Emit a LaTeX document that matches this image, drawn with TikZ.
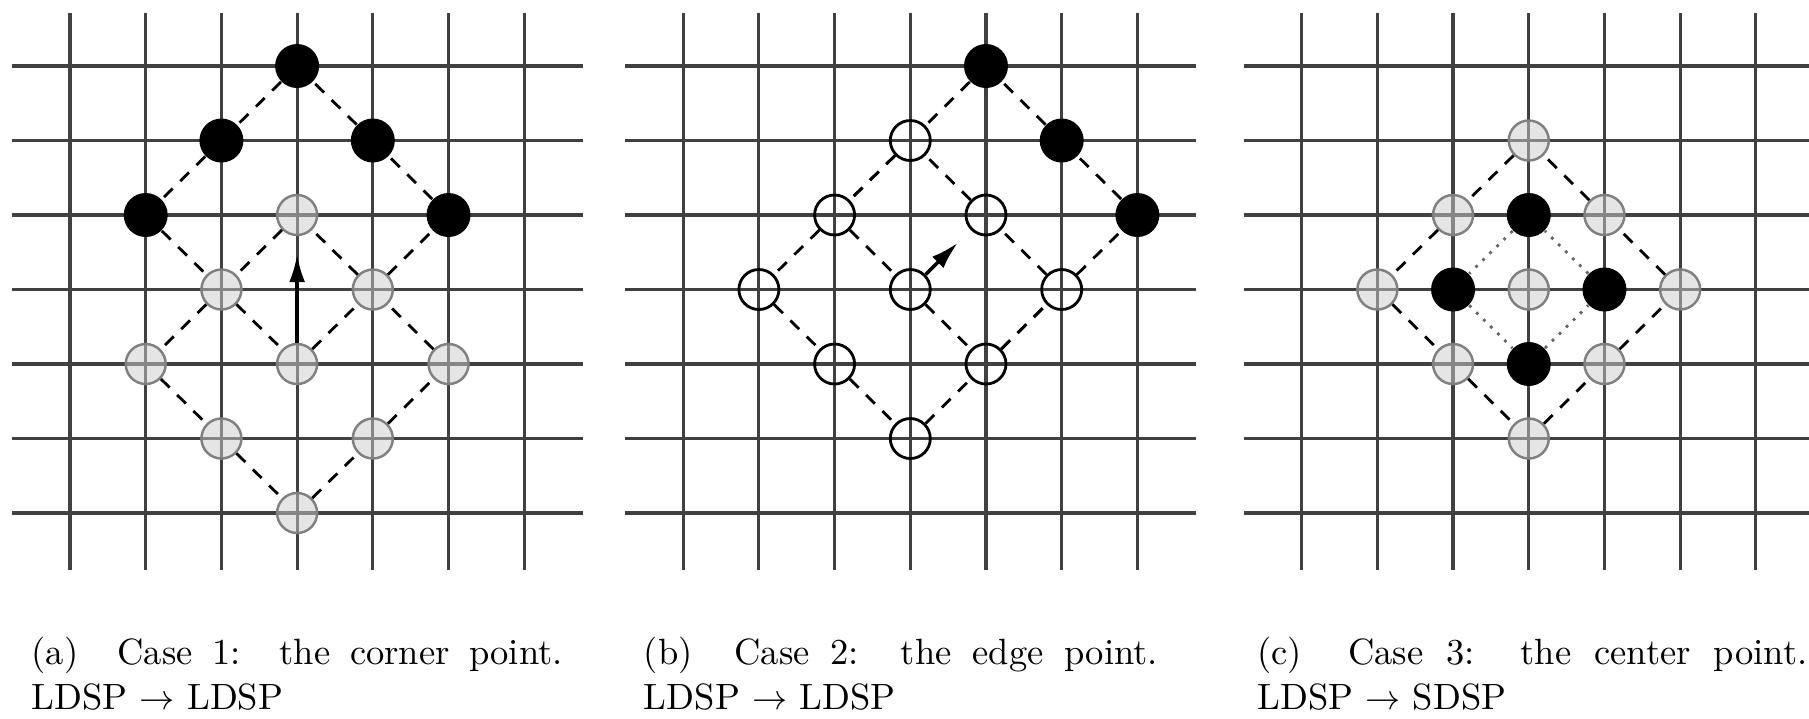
\documentclass[tikz,border=0pt]{standalone}
\usetikzlibrary{arrows.meta, positioning}

\begin{document}
\begin{tikzpicture}[
  x=7.57mm, y=7.45mm,
  gridline/.style={line width=0.9pt, black!75},
  newpt/.style={circle, fill=black, inner sep=0pt, minimum size=4.4mm},
  oldpt/.style={circle, draw=black!50, fill=black!20, fill opacity=0.5,
    line width=0.7pt, inner sep=0pt, minimum size=4mm},
  openpt/.style={circle, draw=black, line width=0.8pt, inner sep=0pt, minimum size=4mm},
  ldsp/.style={line width=0.8pt, dash pattern=on 3.5pt off 3pt},
  sdsp/.style={line width=0.8pt, black!60, dotted},
  move/.style={line width=1pt, -{Latex[length=2.8mm,width=1.6mm]}, shorten >=1.8mm},
  caption/.style={inner sep=0pt, anchor=base west, font=\fontsize{10.4}{12.8}\selectfont}
]
\useasboundingbox (-0.925,-2.752) rectangle (22.972,6.886);

% (a) corner point
\begin{scope}
  \foreach \i in {0,...,6} {
    \draw[gridline] (\i,-0.765) -- (\i,6.71);
    \draw[gridline] (-0.766,\i) -- (6.777,\i);
  }
  \node[oldpt] (a34) at (3,4) {};
  \node[oldpt] (a23) at (2,3) {};
  \node[oldpt] (a43) at (4,3) {};
  \node[oldpt] (a12) at (1,2) {};
  \node[oldpt] (a32) at (3,2) {};
  \node[oldpt] (a52) at (5,2) {};
  \node[oldpt] (a21) at (2,1) {};
  \node[oldpt] (a41) at (4,1) {};
  \node[oldpt] (a30) at (3,0) {};
  \node[newpt] (a36) at (3,6) {};
  \node[newpt] (a25) at (2,5) {};
  \node[newpt] (a45) at (4,5) {};
  \node[newpt] (a14) at (1,4) {};
  \node[newpt] (a54) at (5,4) {};

  \draw[ldsp] (a34) -- (a23) -- (a12) -- (a21) -- (a30) -- (a41) -- (a52) -- (a43) -- (a34);
  \draw[ldsp] (a36) -- (a25) -- (a14) -- (a23) -- (a32) -- (a43) -- (a54) -- (a45) -- (a36);
  \draw[move] (a32) -- (a34);

  \node[caption] (capa) at (-0.515,-2.04) {\makebox[53.1mm][s]{(a)\ \ Case 1:\ \ the corner point.}};
  \node[caption] (capa2) at ([yshift=-4.5mm]capa.base west) {LDSP $\rightarrow$ LDSP};
\end{scope}

% (b) edge point
\begin{scope}[shift={(8.1,0)}]
  \foreach \i in {0,...,6} {
    \draw[gridline] (\i,-0.765) -- (\i,6.71);
    \draw[gridline] (-0.766,\i) -- (6.777,\i);
  }
  \node[openpt] (b35) at (3,5) {};
  \node[openpt] (b24) at (2,4) {};
  \node[openpt] (b44) at (4,4) {};
  \node[openpt] (b13) at (1,3) {};
  \node[openpt] (b33) at (3,3) {};
  \node[openpt] (b53) at (5,3) {};
  \node[openpt] (b22) at (2,2) {};
  \node[openpt] (b42) at (4,2) {};
  \node[openpt] (b31) at (3,1) {};
  \node[newpt] (b46) at (4,6) {};
  \node[newpt] (b55) at (5,5) {};
  \node[newpt] (b64) at (6,4) {};

  \draw[ldsp] (b35) -- (b24) -- (b13) -- (b22) -- (b31) -- (b42) -- (b53) -- (b44) -- (b35);
  \draw[ldsp] (b46) -- (b35) -- (b24) -- (b33) -- (b42) -- (b53) -- (b64) -- (b55) -- (b46);
  \draw[move] (b33) -- (b44);

  \node[caption] (capb) at (-0.528,-2.04) {\makebox[51.4mm][s]{(b)\ \ Case 2:\ \ the edge point.}};
  \node[caption] (capb2) at ([yshift=-4.5mm]capb.base west) {LDSP $\rightarrow$ LDSP};
\end{scope}

% (c) center point
\begin{scope}[shift={(16.27,0)}]
  \foreach \i in {0,...,6} {
    \draw[gridline] (\i,-0.765) -- (\i,6.71);
    \draw[gridline] (-0.766,\i) -- (6.777,\i);
  }
  \node[oldpt] (c35) at (3,5) {};
  \node[oldpt] (c24) at (2,4) {};
  \node[oldpt] (c44) at (4,4) {};
  \node[oldpt] (c13) at (1,3) {};
  \node[oldpt] (c33) at (3,3) {};
  \node[oldpt] (c53) at (5,3) {};
  \node[oldpt] (c22) at (2,2) {};
  \node[oldpt] (c42) at (4,2) {};
  \node[oldpt] (c31) at (3,1) {};
  \node[newpt] (c34) at (3,4) {};
  \node[newpt] (c23) at (2,3) {};
  \node[newpt] (c43) at (4,3) {};
  \node[newpt] (c32) at (3,2) {};

  \draw[ldsp] (c35) -- (c24) -- (c13) -- (c22) -- (c31) -- (c42) -- (c53) -- (c44) -- (c35);
  \draw[sdsp] (c34) -- (c23) -- (c32) -- (c43) -- (c34);

  \node[caption] (capc) at (-0.594,-2.04) {\makebox[55mm][s]{(c)\ \ Case 3:\ \ the center point.}};
  \node[caption] (capc2) at ([yshift=-4.5mm]capc.base west) {LDSP $\rightarrow$ SDSP};
\end{scope}
\end{tikzpicture}
\end{document}
